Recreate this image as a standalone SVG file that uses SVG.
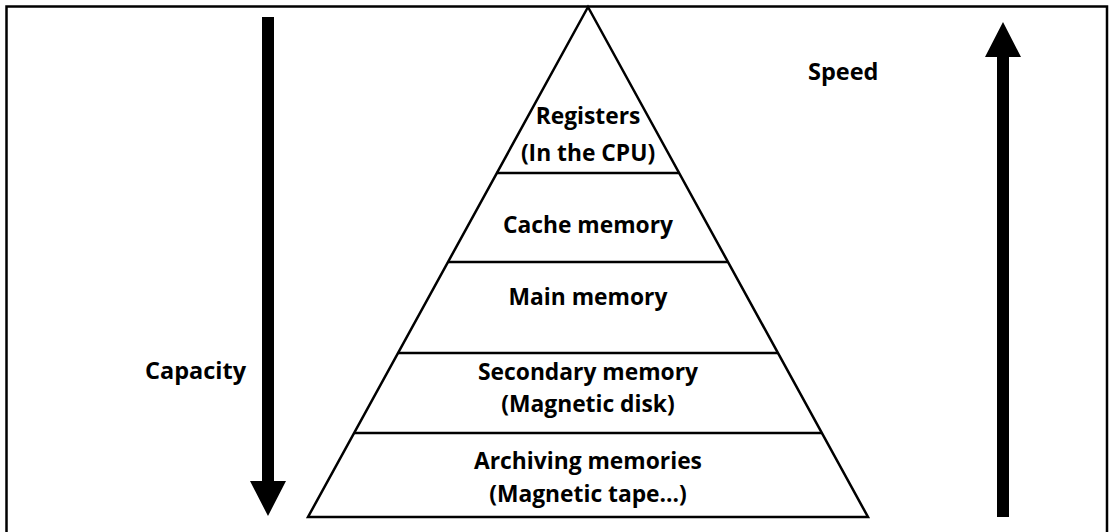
<svg xmlns="http://www.w3.org/2000/svg" width="1112" height="532" viewBox="0 0 1112 532">
  <style>
    .frame { fill: none; stroke: #000; stroke-width: 2.5; }
    .tier { fill: none; stroke: #000; stroke-width: 2.5; stroke-linejoin: miter; }
    .arrow { fill: #000; stroke: none; }
    .lbl { font-family: "Open Sans", "Liberation Sans", sans-serif; font-weight: 700; font-size: 22.8px; fill: #000; }
    .axis { font-size: 23.5px; }
    .mid { text-anchor: middle; }
  </style>
  <rect width="1112" height="532" fill="#fff"/>
  <!-- outer frame -->
  <path class="frame" d="M6.5,532 V6.5 H1107 V532"/>

  <!-- memory hierarchy pyramid -->
  <g id="pyramid">
    <path class="tier" d="M588,7 L868,517 L308,517 Z"/>
  </g>
  <g id="connectors">
    <line class="tier" x1="496.5" y1="173" x2="679.5" y2="173"/>
    <line class="tier" x1="448" y1="262" x2="728" y2="262"/>
    <line class="tier" x1="398" y1="353" x2="778" y2="353"/>
    <line class="tier" x1="354" y1="433" x2="822" y2="433"/>
  </g>

  <g id="registers">
    <text class="lbl mid" x="588" y="124">Registers</text>
    <text class="lbl mid" x="588" y="161">(In the CPU)</text>
  </g>
  <g id="cache">
    <text class="lbl mid" x="588" y="233">Cache memory</text>
  </g>
  <g id="main">
    <text class="lbl mid" x="588" y="305">Main memory</text>
  </g>
  <g id="secondary">
    <text class="lbl mid" x="588" y="380">Secondary memory</text>
    <text class="lbl mid" x="588" y="412">(Magnetic disk)</text>
  </g>
  <g id="archiving">
    <text class="lbl mid" x="588" y="469">Archiving memories</text>
    <text class="lbl mid" x="588" y="502">(Magnetic tape…)</text>
  </g>

  <!-- capacity axis: downward arrow -->
  <g id="capacity">
    <path class="arrow" d="M262,17 H274 V481 H286 L268,516 L250,481 H262 Z"/>
    <text class="lbl axis" x="145" y="379">Capacity</text>
  </g>

  <!-- speed axis: upward arrow -->
  <g id="speed">
    <path class="arrow" d="M997,517 V57 H985 L1003,22 L1021,57 H1009 V517 Z"/>
    <text class="lbl axis" x="808" y="80">Speed</text>
  </g>
</svg>
